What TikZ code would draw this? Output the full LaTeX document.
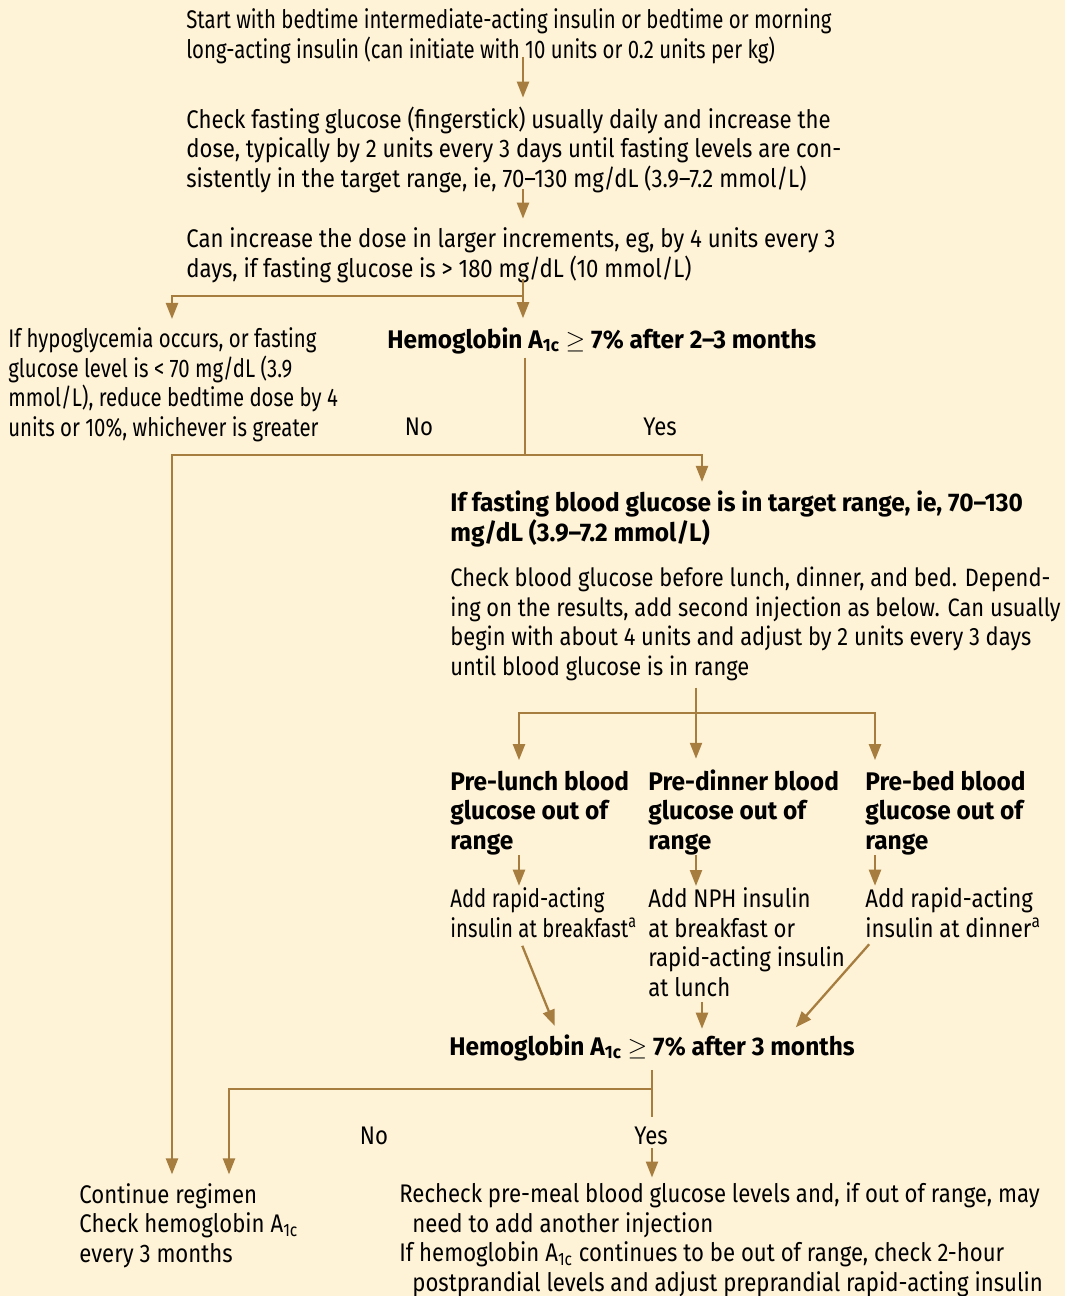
\documentclass[tikz,border=0pt]{standalone}
\usepackage{fontspec}
\setmainfont{Fira Sans}[FakeStretch=0.87,BoldFeatures={FakeStretch=0.96}]
\newfontfamily\narrowfont{Fira Sans}[FakeStretch=0.80]
\usetikzlibrary{arrows.meta,calc,positioning}
\definecolor{cream}{HTML}{FEF2D7}
\definecolor{ochre}{HTML}{A67C3F}
\newcommand{\hbA}{A\textsubscript{1c}}

\begin{document}
\begin{tikzpicture}[x=0.02cm, y=-0.02cm,
				every node/.style={inner sep=0pt, anchor=base west, align=left, font=\fontsize{14.5}{16.7}\selectfont},
				head/.style={font=\fontsize{14.5}{16.7}\selectfont\bfseries},
				narrow/.style={font=\fontsize{14.5}{16.7}\narrowfont},
				answer/.style={anchor=base},
				link/.style={draw=ochre, line width=1.3pt},
				arr/.style={link, -{Triangle[length=3.2mm,width=2.4mm]}}
				]
				\fill[cream] (0,0) rectangle (1065,1296);
				\useasboundingbox (0,0) rectangle (1065,1296);
				
				% top of the chart (positions are the baselines of the last lines)
				\node[narrow] (start) at (186,58) {Start with bedtime intermediate-acting insulin or bedtime or morning\\long-acting insulin (can initiate with 10 units or 0.2 units per kg)};
				\node (check) at (186,187) {Check fasting glucose (fingerstick) usually daily and increase the\\dose, typically by 2 units every 3 days until fasting levels are con-\\sistently in the target range, ie, 70--130 mg/dL (3.9--7.2 mmol/L)};
				\node (incr) at (186,277) {Can increase the dose in larger increments, eg, by 4 units every 3\\days, if fasting glucose is > 180 mg/dL (10 mmol/L)};
				\node[narrow] (hypo) at (8,436) {If hypoglycemia occurs, or fasting\\glucose level is < 70 mg/dL (3.9\\mmol/L), reduce bedtime dose by 4\\units or 10\%, whichever is greater};
				\node[head] (hbafirst) at (387,348) {Hemoglobin \hbA{} $\geq$ 7\% after 2--3 months};
				\node[answer] (nofirst) at (419,435) {No};
				\node[answer] (yesfirst) at (660,435) {Yes};
				
				% second injection
				\node[head] (fasting) at (450,541) {If fasting blood glucose is in target range, ie, 70--130\\mg/dL (3.9--7.2 mmol/L)};
				\node[font=\fontsize{14.3}{16.7}\selectfont] (checkbg) at (450,675) {Check blood glucose before lunch, dinner, and bed. Depend-\\ing on the results, add second injection as below. Can usually\\begin with about 4 units and adjust by 2 units every 3 days\\until blood glucose is in range};
				\node[head] (prelunch) at (450,849) {Pre-lunch blood\\glucose out of\\range};
				\node[head] (predinner) at (648,849) {Pre-dinner blood\\glucose out of\\range};
				\node[head] (prebed) at (865,849) {Pre-bed blood\\glucose out of\\range};
				\node[narrow] (addlunch) at (450,937) {Add rapid-acting\\insulin at breakfast\textsuperscript{a}};
				\node (adddinner) at (648,996) {Add NPH insulin\\at breakfast or\\rapid-acting insulin\\at lunch};
				\node (addbed) at (865,937) {Add rapid-acting\\insulin at dinner\textsuperscript{a}};
				\node[head] (hbasecond) at (449,1055) {Hemoglobin \hbA{} $\geq$ 7\% after 3 months};
				\node[answer] (nosecond) at (374,1144) {No};
				\node[answer] (yessecond) at (651,1144) {Yes};
				
				% bottom
				\node (cont) at (79,1262) {Continue regimen\\Check hemoglobin \hbA\\every 3 months};
				\node (recheck) at (399,1291) {Recheck pre-meal blood glucose levels and, if out of range, may\\\hspace*{0.26cm}need to add another injection\\If hemoglobin \hbA{} continues to be out of range, check 2-hour\\\hspace*{0.26cm}postprandial levels and adjust preprandial rapid-acting insulin};
				
				% branch points
				\coordinate (spine) at (523,0);
				\coordinate (splitA) at (523,296);
				\coordinate (leftA) at (172,296);
				\coordinate (splitB) at (525,455);
				\coordinate (leftB) at (172,455);
				\coordinate (rightB) at (702,455);
				\coordinate (splitC) at (696,713);
				\coordinate (leftC) at (519,713);
				\coordinate (rightC) at (875,713);
				\coordinate (splitD) at (652,1089);
				\coordinate (leftD) at (229,1089);
				\coordinate (tipL) at (558,0);
				\coordinate (tipR) at (790,0);
				
				\draw[arr, shorten <=-4pt, shorten >=5pt] (start.south -| spine) -- (check.north -| spine);
				\draw[arr, shorten <=-2pt, shorten >=5pt] (check.south -| spine) -- (incr.north -| spine);
				\draw[link, shorten <=-2pt] (incr.south -| spine) -- (splitA);
				\draw[arr, shorten >=5pt] (splitA) -- (hbafirst.north -| splitA);
				\draw[arr, shorten >=5pt] (splitA) -- (leftA) -- (hypo.north -| leftA);
				\draw[link, shorten <=2pt] (hbafirst.south -| splitB) -- (splitB);
				\draw[arr, shorten >=5pt] (splitB) -- (rightB) -- (fasting.north -| rightB);
				\draw[arr, shorten >=5pt] (splitB) -- (leftB) -- (cont.north -| leftB);
				\draw[link, shorten <=4pt] (checkbg.south -| splitC) -- (splitC);
				\draw[arr, shorten >=6pt] (splitC) -- (predinner.north -| splitC);
				\draw[arr, shorten >=6pt] (splitC) -- (leftC) -- (prelunch.north -| leftC);
				\draw[arr, shorten >=6pt] (splitC) -- (rightC) -- (prebed.north -| rightC);
				\draw[arr, shorten <=0pt, shorten >=1pt] (prelunch.south -| leftC) -- (addlunch.north -| leftC);
				\draw[arr, shorten <=0pt, shorten >=1pt] (predinner.south -| splitC) -- (adddinner.north -| splitC);
				\draw[arr, shorten <=0pt, shorten >=1pt] (prebed.south -| rightC) -- (addbed.north -| rightC);
				\draw[arr, shorten <=5pt, shorten >=5pt] (addlunch.south -| leftC) -- (hbasecond.north -| tipL);
				\draw[arr, shorten <=3pt, shorten >=3pt] (adddinner.south -| rightB) -- (hbasecond.north -| rightB);
				\draw[arr, shorten <=5pt, shorten >=5pt] (addbed.south -| rightC) -- (hbasecond.north -| tipR);
				\draw[link, shorten <=5pt, shorten >=5pt] (hbasecond.south -| splitD) -- (yessecond.north -| splitD);
				\draw[arr, shorten <=2pt, shorten >=3pt] (yessecond.south -| splitD) -- (recheck.north -| splitD);
				\draw[arr, shorten >=5pt] (splitD) -- (leftD) -- (cont.north -| leftD);
\end{tikzpicture}
\end{document}
